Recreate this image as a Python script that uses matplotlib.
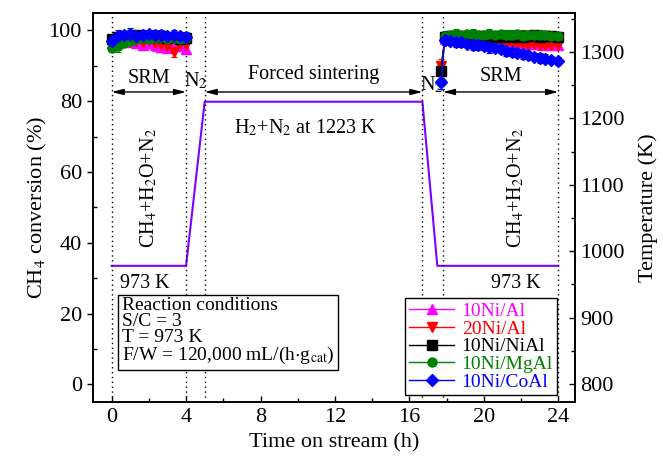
import numpy as np
import matplotlib
matplotlib.use("Agg")
import matplotlib.pyplot as plt
from matplotlib.lines import Line2D

plt.rcParams['font.family'] = ['Liberation Serif', 'DejaVu Serif']
plt.rcParams['mathtext.fontset'] = 'stix'

# time on stream (h) for the two SRM periods
t_left = [0.0, 0.33, 0.67, 1.0, 1.33, 1.67, 2.0, 2.33, 2.67, 3.0, 3.33, 3.67, 4.0]
t_right = [17.7, 17.9, 18.2, 18.5, 18.8, 19.1, 19.4, 19.7, 20.0, 20.3, 20.6,
           20.9, 21.2, 21.5, 21.8, 22.1, 22.4, 22.7, 23.0, 23.3, 23.6, 24.0]

labels = ['10Ni/Al', '20Ni/Al', '10Ni/NiAl', '10Ni/MgAl', '10Ni/CoAl']
colors = ['#FF00FF', '#FF0000', '#000000', '#008000', '#0000FF']
markers = ['^', 'v', 's', 'o', 'D']

# CH4 conversion (%)
ni_al_left = [96.5, 97.0, 96.8, 97.2, 96.5, 96.0, 96.3, 95.8, 95.2, 95.0, 96.0, 95.5, 94.8]
ni_al_right = [89.0, 97.5, 97.3, 97.2, 97.0, 97.0, 96.8, 96.8, 96.7, 96.6, 96.5,
               96.5, 96.4, 96.4, 96.3, 96.3, 96.2, 96.2, 96.1, 96.0, 96.0, 96.0]
ni20_al_left = [97.0, 97.5, 97.2, 97.8, 97.0, 96.8, 97.2, 96.5, 96.0, 95.5, 94.0, 96.5, 96.0]
ni20_al_right = [90.0, 97.0, 96.8, 96.8, 96.6, 96.7, 96.5, 96.6, 96.4, 96.5, 96.3,
                 96.4, 96.2, 96.3, 96.1, 96.2, 96.0, 96.1, 96.0, 95.9, 96.0, 95.8]
ni_nial_left = [97.5, 98.0, 98.5, 98.2, 98.8, 98.0, 98.5, 98.0, 98.3, 97.8, 98.0, 97.5, 97.8]
ni_nial_right = [88.5, 98.0, 98.3, 98.5, 98.2, 98.4, 98.0, 98.3, 98.5, 98.1, 98.3,
                 98.0, 98.4, 98.2, 98.5, 98.0, 98.3, 98.6, 98.1, 98.3, 98.4, 98.0]
ni_mgal_left = [95.0, 95.5, 96.5, 97.0, 97.5, 97.8, 97.5, 97.8, 98.0, 97.6, 97.8, 97.5, 97.8]
ni_mgal_right = [85.5, 98.5, 98.8, 99.0, 98.7, 98.9, 99.0, 98.6, 98.8, 99.0, 98.7,
                 98.9, 98.6, 98.8, 98.9, 98.5, 98.7, 98.8, 98.6, 98.7, 98.5, 98.4]
ni_coal_left = [97.0, 98.5, 98.8, 99.0, 98.5, 98.8, 99.0, 98.6, 98.8, 98.5, 98.7, 98.3, 98.0]
ni_coal_right = [85.5, 97.2, 97.0, 96.8, 96.6, 96.2, 96.0, 95.8, 95.5, 95.2, 95.0,
                 94.7, 94.2, 94.0, 93.5, 93.3, 93.0, 92.6, 92.3, 92.0, 91.7, 91.3]

# error bars (%)
err_left = [1.2, 1.5, 1.0, 1.8, 1.2, 1.4, 1.0, 1.6, 1.2, 1.0, 1.4, 1.2, 1.5]
err_right = [2.0, 1.2, 1.0, 1.5, 1.2, 1.0, 1.4, 1.2, 1.0, 1.5, 1.2,
             1.0, 1.4, 1.2, 1.0, 1.5, 1.2, 1.0, 1.4, 1.2, 1.0, 1.2]

lefts = [ni_al_left, ni20_al_left, ni_nial_left, ni_mgal_left, ni_coal_left]
rights = [ni_al_right, ni20_al_right, ni_nial_right, ni_mgal_right, ni_coal_right]

# temperature programme
t_temp = [0.0, 4.0, 5.0, 16.7, 17.5, 24.0]
temp = [978, 978, 1225, 1225, 978, 978]

dotted_t = [0, 4, 5, 16.7, 17.8, 24]

fig = plt.figure(figsize=(6.63, 4.67), dpi=100)
ax = fig.add_axes([0.1403, 0.1392, 0.7270, 0.8336])
ax2 = ax.twinx()

ax2.plot(t_temp, temp, color='#8000FF', lw=1.5, zorder=2)

for i in range(5):
    for tt, yy in ((t_left, lefts[i]), (t_right, rights[i])):
        ee = err_left if tt is t_left else err_right
        ax.errorbar(tt, yy, yerr=ee, color=colors[i], marker=markers[i],
                    ms=6.5, lw=1, elinewidth=0.8, capsize=2.5, capthick=0.8,
                    zorder=5)

for x in dotted_t:
    ax.axvline(x, color='black', ls=(0, (1, 2.5)), lw=1, zorder=1)

ax.set_xlim(-1, 24.9)
ax.set_ylim(-5, 105)
ax2.set_ylim(773, 1359)
ax.set_zorder(ax2.get_zorder() + 1)
ax.patch.set_visible(False)

arrow = dict(arrowstyle='<|-|>,head_length=0.7,head_width=0.18', color='black',
             lw=1, shrinkA=0, shrinkB=0)
for a, b in ((0, 4), (5, 16.7), (17.8, 24)):
    ax.annotate('', xy=(a, 82.6), xytext=(b, 82.6), arrowprops=arrow)

fs = 14.5
ax.text(2.0, 86.3, 'SRM', ha='center', va='center', fontsize=fs)
ax.text(20.9, 87.0, 'SRM', ha='center', va='center', fontsize=fs)
ax.text(10.85, 87.5, 'Forced sintering', ha='center', va='center', fontsize=fs)
ax.text(4.5, 85.6, 'N$_2$', ha='center', va='center', fontsize=fs)
ax.text(17.2, 84.6, 'N$_2$', ha='center', va='center', fontsize=fs)
ax.text(2.0, 55.5, 'CH$_4$+H$_2$O+N$_2$', ha='center', va='center',
        rotation=90, fontsize=fs)
ax.text(21.7, 55.5, 'CH$_4$+H$_2$O+N$_2$', ha='center', va='center',
        rotation=90, fontsize=fs)
ax.text(1.8, 28.4, '973 K', ha='center', va='center', fontsize=fs)
ax.text(21.7, 28.4, '973 K', ha='center', va='center', fontsize=fs)
ax.text(10.4, 72.5, 'H$_2$+N$_2$ at 1223 K', ha='center', va='center', fontsize=fs)

ax.text(0.06, 0.092,
        'Reaction conditions\nS/C = 3\nT = 973 K\nF/W = 120,000 mL/(h$\\cdot$g$_{\\mathrm{cat}}$)',
        transform=ax.transAxes, ha='left', va='bottom', fontsize=14,
        linespacing=0.93,
        bbox=dict(boxstyle='square,pad=0.2', fc='white', ec='black', lw=1))

handles = [Line2D([], [], color=c, marker=m, ms=6.5, lw=1) for c, m in zip(colors, markers)]
leg = ax.legend(handles, labels, loc='lower right', bbox_to_anchor=(0.963, 0.018),
                borderaxespad=0, fontsize=14, labelspacing=0.0, handlelength=2.3,
                handletextpad=0.4, borderpad=0.22, fancybox=False, framealpha=1,
                edgecolor='black')
leg.get_frame().set_linewidth(1)
for txt, c in zip(leg.get_texts(), colors):
    txt.set_color(c)

ax.set_xticks([0, 4, 8, 12, 16, 20, 24])
ax.set_xticks(np.arange(0, 25, 2), minor=True)
ax.set_yticks([0, 20, 40, 60, 80, 100])
ax.set_yticks(np.arange(0, 101, 10), minor=True)
ax2.set_yticks([800, 900, 1000, 1100, 1200, 1300])
ax2.set_yticks(np.arange(800, 1351, 50), minor=True)

ax.tick_params(axis='x', which='both', direction='in', top=False, labelsize=16, pad=4)
ax.tick_params(axis='x', which='major', length=4.5, width=1)
ax.tick_params(axis='x', which='minor', length=3, width=1)
ax.tick_params(axis='y', which='major', direction='out', length=4.5, width=1, labelsize=16)
ax.tick_params(axis='y', which='minor', direction='in', length=3, width=1)
ax2.tick_params(axis='y', which='both', direction='in', width=1, labelsize=16)
ax2.tick_params(axis='y', which='major', length=4.5)
ax2.tick_params(axis='y', which='minor', length=3)

for sp in ax.spines.values():
    sp.set_linewidth(1.2)
for sp in ax2.spines.values():
    sp.set_linewidth(1.2)

ax.set_xlabel('Time on stream (h)', fontsize=16, labelpad=5)
ax.set_ylabel('CH$_4$ conversion (%)', fontsize=16, labelpad=0)
ax2.set_ylabel('Temperature (K)', fontsize=16, labelpad=10)

fig.savefig('out.png', dpi=100)
